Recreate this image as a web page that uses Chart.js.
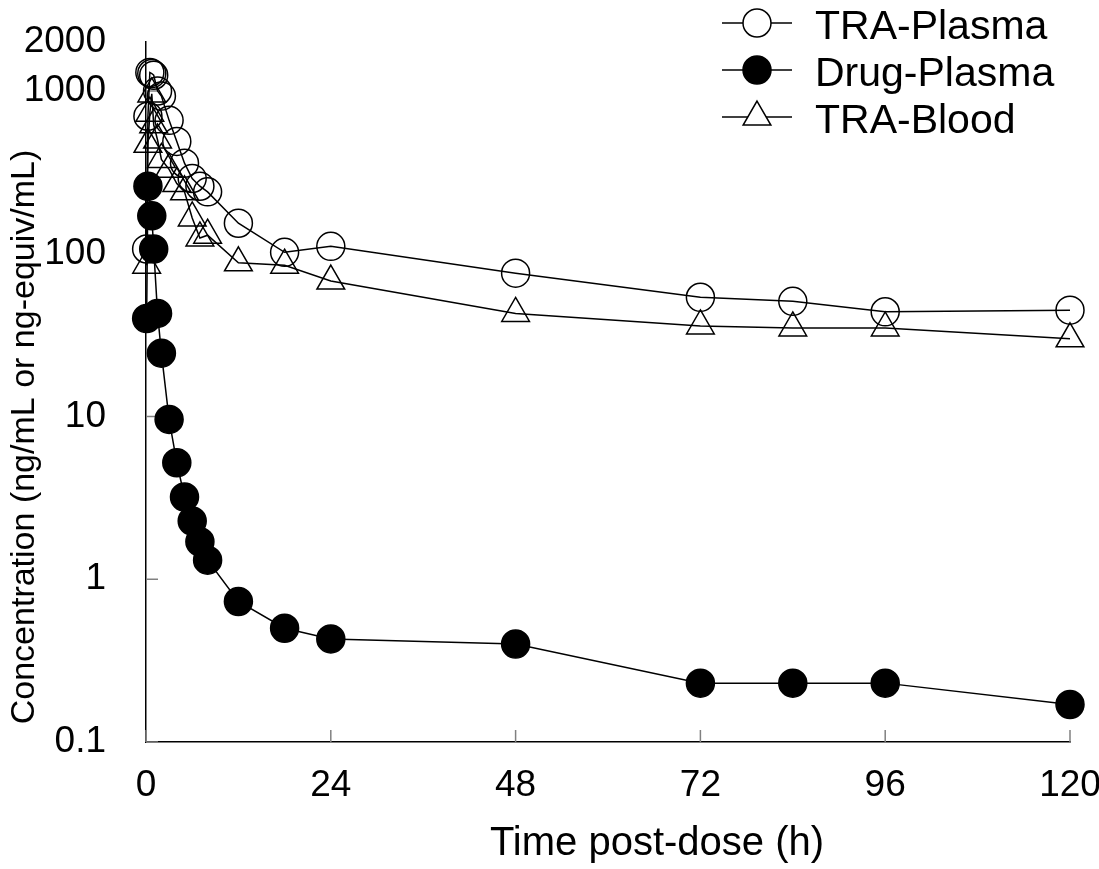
<!DOCTYPE html>
<html>
<head>
<meta charset="utf-8">
<script src="https://cdn.jsdelivr.net/npm/chart.js@4.4.1/dist/chart.umd.min.js"></script>
<style>
body { margin: 0; background: #fff; }
</style>
</head>
<body>
<canvas id="pkChart" width="1099" height="869"></canvas>
<script>
// tiempos de muestreo (h)
var horasTRA = [0.083, 0.25, 0.5, 0.75, 1, 1.5, 2, 3, 4, 5, 6, 7, 8, 12, 18, 24, 48, 72, 84, 96, 120];
var horasDrug = [0.083, 0.25, 0.75, 1, 1.5, 2, 3, 4, 5, 6, 7, 8, 12, 18, 24, 48, 72, 84, 96, 120];

// concentraciones
var traPlasma = [107, 700, 1300, 1280, 1250, 1000, 930, 660, 490, 360, 290, 260, 240, 154, 102, 111, 76, 54, 51, 44, 45];
var drugPlasma = [40, 260, 171, 107, 43, 24.5, 9.6, 5.2, 3.2, 2.28, 1.7, 1.31, 0.73, 0.50, 0.43, 0.40, 0.23, 0.23, 0.23, 0.17];
var traBlood = [85, 470, 730, 960, 620, 500, 380, 330, 270, 240, 166, 125, 130, 88, 85, 68, 43, 36, 35, 35, 30];

var nombres = ['TRA-Plasma', 'Drug-Plasma', 'TRA-Blood'];
var ticksX = [0, 24, 48, 72, 96, 120];
var ticksY = [0.1, 1, 10, 100, 1000, 2000];
var marcasY = [0.1, 1, 10, 100, 1000];
var tituloX = 'Time post-dose (h)';
var tituloY = 'Concentration (ng/mL or ng-equiv/mL)';

var fuente = '"Liberation Sans", Arial, sans-serif';

function puntos(xs, ys) {
    var out = [];
    xs.forEach(function(t, i) { out.push({x: t, y: ys[i]}); });
    return out;
}

function serie(nombre, datos, estilo, relleno, radio) {
    return {
        label: nombre,
        data: datos,
        pointStyle: estilo,
        pointRadius: radio,
        pointBackgroundColor: relleno,
        pointBorderColor: '#000',
        pointBorderWidth: 1.5,
        borderColor: '#000',
        borderWidth: 1.5,
        showLine: true,
        fill: false,
        tension: 0,
        clip: false
    };
}

// marcas cortas hacia dentro en los ejes
var marcas = {
    id: 'marcas',
    beforeDatasetsDraw: function(chart) {
        var ctx = chart.ctx, a = chart.chartArea;
        var sx = chart.scales.x, sy = chart.scales.y;
        ctx.save();
        ctx.strokeStyle = '#808080';
        ctx.lineWidth = 1.5;
        ticksX.forEach(function(v) {
            var px = sx.getPixelForValue(v);
            ctx.beginPath(); ctx.moveTo(px, a.bottom); ctx.lineTo(px, a.bottom - 12); ctx.stroke();
        });
        marcasY.forEach(function(v) {
            var py = sy.getPixelForValue(v);
            ctx.beginPath(); ctx.moveTo(a.left, py); ctx.lineTo(a.left + 12, py); ctx.stroke();
        });
        ctx.restore();
    }
};

// titulos de los ejes
var titulos = {
    id: 'titulos',
    afterDraw: function(chart) {
        var ctx = chart.ctx;
        ctx.save();
        ctx.fillStyle = '#000';
        ctx.textAlign = 'center';
        ctx.textBaseline = 'middle';
        ctx.font = '40px ' + fuente;
        ctx.fillText(tituloX, 657, 844);
        ctx.translate(25, 437);
        ctx.rotate(-Math.PI / 2);
        ctx.font = '34px ' + fuente;
        ctx.fillText(tituloY, 0, 0);
        ctx.restore();
    }
};

// leyenda con linea y marcador
var leyenda = {
    id: 'leyenda',
    afterDraw: function(chart) {
        var ctx = chart.ctx;
        ctx.save();
        chart.data.datasets.forEach(function(ds, i) {
            var y = 23 + i * 47;
            ctx.strokeStyle = '#000';
            ctx.lineWidth = 1.5;
            ctx.beginPath(); ctx.moveTo(722, y); ctx.lineTo(792, y); ctx.stroke();
            ctx.fillStyle = ds.pointBackgroundColor === '#000' ? '#000' : '#fff';
            Chart.helpers.drawPoint(ctx, {pointStyle: ds.pointStyle, radius: ds.pointRadius, borderWidth: 1.5, rotation: 0}, 757, y);
            ctx.fillStyle = '#000';
            ctx.font = '41px ' + fuente;
            ctx.textBaseline = 'middle';
            ctx.textAlign = 'left';
            ctx.fillText(ds.label, 815, y + 5);
        });
        ctx.restore();
    }
};

var ctx = document.getElementById('pkChart').getContext('2d');
var chart = new Chart(ctx, {
    type: 'line',
    data: {
        datasets: [
            serie(nombres[0], puntos(horasTRA, traPlasma), 'circle', 'rgba(0,0,0,0)', 14),
            serie(nombres[1], puntos(horasDrug, drugPlasma), 'circle', '#000', 14),
            serie(nombres[2], puntos(horasTRA, traBlood), 'triangle', 'rgba(0,0,0,0)', 16)
        ]
    },
    options: {
        responsive: false,
        animation: false,
        layout: { padding: { top: 42, right: 29, left: 0, bottom: 0 } },
        plugins: {
            legend: { display: false },
            tooltip: { enabled: false }
        },
        scales: {
            x: {
                type: 'linear',
                min: 0,
                max: 120,
                afterBuildTicks: function(s) { s.ticks = ticksX.map(function(v) { return {value: v}; }); },
                afterFit: function(s) { s.height = 127; s.paddingLeft = 0; s.paddingRight = 0; },
                grid: { display: false, drawTicks: false },
                border: { color: '#000', width: 1.5 },
                ticks: { padding: 22, color: '#000', font: { size: 37, family: fuente } },
                title: { display: false }
            },
            y: {
                type: 'logarithmic',
                min: 0.1,
                max: 2000,
                afterBuildTicks: function(s) { s.ticks = ticksY.map(function(v) { return {value: v}; }); },
                afterFit: function(s) { s.width = 146; s.paddingTop = 0; s.paddingBottom = 0; },
                grid: { display: false, drawTicks: false },
                border: { color: '#000', width: 1.5 },
                ticks: {
                    padding: 40,
                    color: '#000',
                    font: { size: 37, family: fuente },
                    callback: function(v) { return String(v); }
                },
                title: { display: false }
            }
        }
    },
    plugins: [marcas, titulos, leyenda]
});
</script>
</body>
</html>
